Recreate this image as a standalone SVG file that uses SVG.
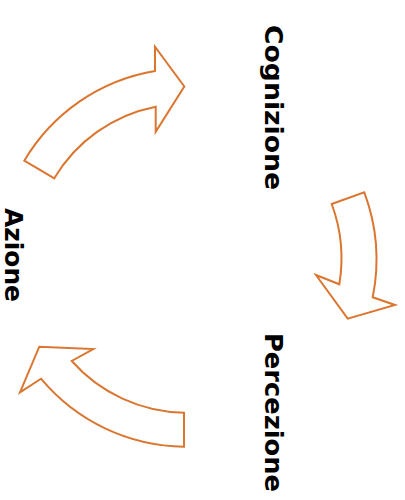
<svg xmlns="http://www.w3.org/2000/svg" width="405" height="500" viewBox="0 0 405 500">
  <style>
    .arrow { fill: #ffffff; stroke: #DA7630; stroke-width: 2; stroke-linejoin: miter; }
    .label { font-family: "DejaVu Sans", "Liberation Sans", sans-serif; font-weight: bold; font-size: 24px; fill: #000000; }
  </style>
  <rect width="405" height="500" fill="#ffffff"/>

  <!-- Cycle arrows, arcs around a common centre (184,257) -->
  <g id="connectors">
    <path id="arrow-azione-cognizione" class="arrow"
          d="M 24.3,160.7 A 188 188 0 0 1 155,71 L 155,46.7 L 184.3,86.5 L 155.7,131.7 L 155.7,106.7 A 152 152 0 0 0 54.3,178.3 Z"/>
    <path id="arrow-cognizione-percezione" class="arrow"
          d="M 331.7,204 L 364.3,192.3 A 192 192 0 0 1 372.7,297.3 L 395,305 L 347.7,318.7 L 316,275 L 339.3,284.3 A 157 157 0 0 0 331.7,204 Z"/>
    <path id="arrow-percezione-azione" class="arrow"
          d="M 184,412.7 L 184,446.7 A 189 189 0 0 1 41,378.7 L 20,392.3 L 39.3,346.7 L 93.3,349 L 71.7,361 A 154 154 0 0 0 184,412.7 Z"/>
  </g>

  <g id="cognizione">
    <text class="label" transform="translate(265,25) rotate(90)" textLength="165" lengthAdjust="spacingAndGlyphs">Cognizione</text>
  </g>
  <g id="percezione">
    <text class="label" transform="translate(265,333) rotate(90)" textLength="159" lengthAdjust="spacingAndGlyphs">Percezione</text>
  </g>
  <g id="azione">
    <text class="label" transform="translate(5,208) rotate(90)" textLength="94" lengthAdjust="spacingAndGlyphs">Azione</text>
  </g>
</svg>
